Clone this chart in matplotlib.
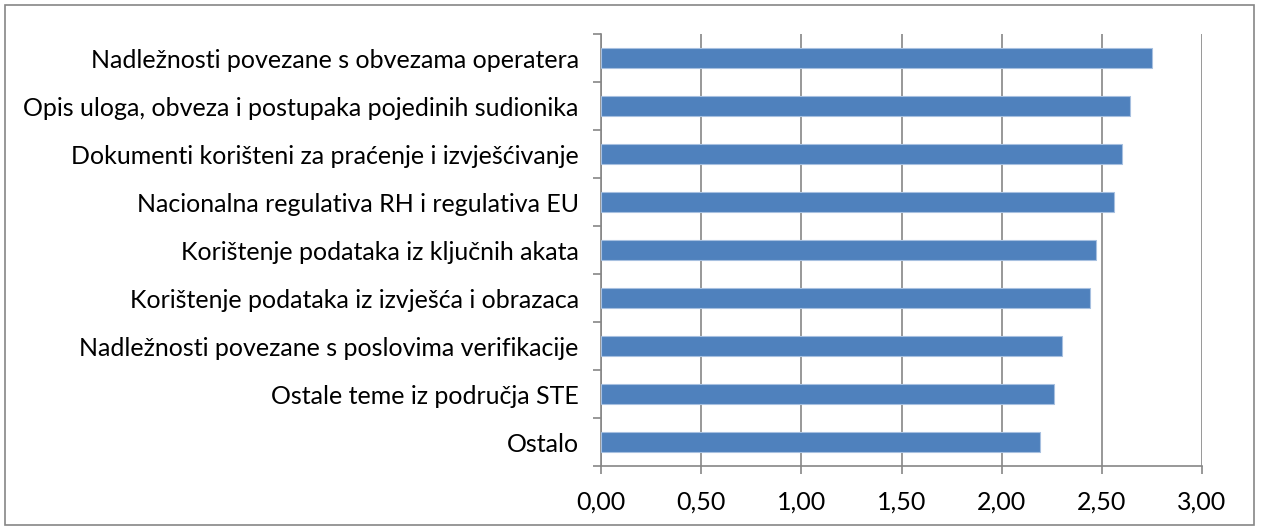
import matplotlib.pyplot as plt
from matplotlib.ticker import FuncFormatter
import numpy as np

# categories top to bottom
labels = [
    'Nadležnosti povezane s obvezama operatera',
    'Opis uloga, obveza i postupaka pojedinih sudionika',
    'Dokumenti korišteni za praćenje i izvješćivanje',
    'Nacionalna regulativa RH i regulativa EU',
    'Korištenje podataka iz ključnih akata',
    'Korištenje podataka iz izvješća i obrazaca',
    'Nadležnosti povezane s poslovima verifikacije',
    'Ostale teme iz područja STE',
    'Ostalo',
]
values = [2.75, 2.64, 2.60, 2.56, 2.47, 2.44, 2.30, 2.26, 2.19]
xticks = [0, 0.5, 1.0, 1.5, 2.0, 2.5, 3.0]

plt.rcParams['font.family'] = ['Lato', 'DejaVu Sans']

fig = plt.figure(figsize=(12.61, 5.30), dpi=100)
ax = fig.add_axes([601 / 1261, 1 - 466 / 530, 601 / 1261, 432 / 530])

n = len(labels)
ypos = np.arange(n)[::-1]
ax.barh(ypos, values, height=0.4, color='#4F81BD', edgecolor='#A7C0E0', linewidth=0.8, zorder=3)

ax.set_xlim(0, 3)
ax.set_ylim(-0.5, n - 0.5)
ax.set_xticks(xticks)
ax.xaxis.set_major_formatter(FuncFormatter(lambda v, p: f'{v:.2f}'.replace('.', ',')))
ax.grid(axis='x', color='#868686', linewidth=1.2, zorder=0)

# y: ticks at category boundaries, labels at centres
ax.set_yticks(np.arange(n + 1) - 0.5)
ax.set_yticklabels([])
ax.set_yticks(ypos, labels=labels, minor=True)
ax.tick_params(axis='y', which='major', length=6, width=1.2, color='#868686')
ax.tick_params(axis='y', which='minor', length=0, pad=16, labelsize=18)
ax.tick_params(axis='x', length=6, width=1.2, color='#868686', labelsize=18, pad=12)

for s in ['top', 'right']:
    ax.spines[s].set_visible(False)
for s in ['left', 'bottom']:
    ax.spines[s].set_color('#868686')
    ax.spines[s].set_linewidth(1.2)

# outer chart border
fig.patches.append(plt.Rectangle((5 / 1261, 5 / 530), 1249 / 1261, 520 / 530,
                                 transform=fig.transFigure, fill=False,
                                 edgecolor='#868686', linewidth=1.2))

fig.savefig('out.png', dpi=100)
